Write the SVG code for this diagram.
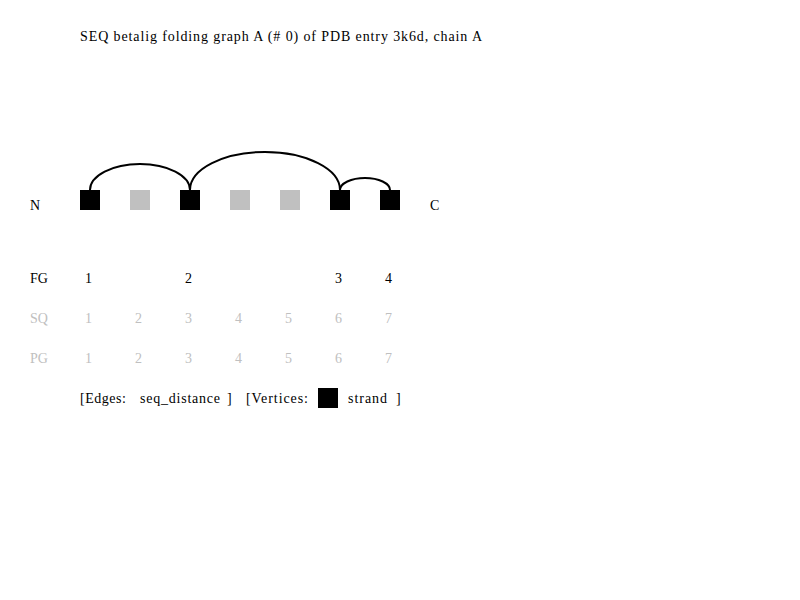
<svg xmlns="http://www.w3.org/2000/svg" width="800" height="600" viewBox="0 0 800 600">
<style>
text{font-family:"Liberation Serif","Times New Roman",serif;font-size:14px;fill:#000}
.g{fill:#c0c0c0}
.s{fill:#000}
.u{fill:#c0c0c0}
.arc{fill:none;stroke:#000;stroke-width:2}
</style>
<rect width="800" height="600" fill="#fff"/>
<text x="80" y="41" textLength="402" lengthAdjust="spacing">SEQ betalig folding graph A (# 0) of PDB entry 3k6d, chain A</text>
<g id="connectors">
<path class="arc" d="M90,190 A50,26 0 0 1 190,190"/>
<path class="arc" d="M190,190 A75,38 0 0 1 340,190"/>
<path class="arc" d="M340,190 A25,12 0 0 1 390,190"/>
</g>
<g id="v1"><rect class="s" x="80" y="190" width="20" height="20"/></g>
<g id="v2"><rect class="u" x="130" y="190" width="20" height="20"/></g>
<g id="v3"><rect class="s" x="180" y="190" width="20" height="20"/></g>
<g id="v4"><rect class="u" x="230" y="190" width="20" height="20"/></g>
<g id="v5"><rect class="u" x="280" y="190" width="20" height="20"/></g>
<g id="v6"><rect class="s" x="330" y="190" width="20" height="20"/></g>
<g id="v7"><rect class="s" x="380" y="190" width="20" height="20"/></g>
<text x="30" y="210">N</text>
<text x="430" y="210">C</text>
<text x="30" y="283">FG</text>
<text x="85" y="283">1</text>
<text x="185" y="283">2</text>
<text x="335" y="283">3</text>
<text x="385" y="283">4</text>
<g class="g">
<text class="g" x="30" y="323">SQ</text>
<text class="g" x="85" y="323">1</text>
<text class="g" x="135" y="323">2</text>
<text class="g" x="185" y="323">3</text>
<text class="g" x="235" y="323">4</text>
<text class="g" x="285" y="323">5</text>
<text class="g" x="335" y="323">6</text>
<text class="g" x="385" y="323">7</text>
<text class="g" x="30" y="363">PG</text>
<text class="g" x="85" y="363">1</text>
<text class="g" x="135" y="363">2</text>
<text class="g" x="185" y="363">3</text>
<text class="g" x="235" y="363">4</text>
<text class="g" x="285" y="363">5</text>
<text class="g" x="335" y="363">6</text>
<text class="g" x="385" y="363">7</text>
</g>
<text x="80" y="403" textLength="46" lengthAdjust="spacing">[Edges:</text>
<text x="140" y="403" textLength="80" lengthAdjust="spacing">seq_distance</text>
<text x="227" y="403">]</text>
<text x="246" y="403" textLength="62" lengthAdjust="spacing">[Vertices:</text>
<rect x="318" y="388" width="20" height="20" fill="#000"/>
<text x="348" y="403" textLength="39" lengthAdjust="spacing">strand</text>
<text x="396" y="403">]</text>
</svg>
